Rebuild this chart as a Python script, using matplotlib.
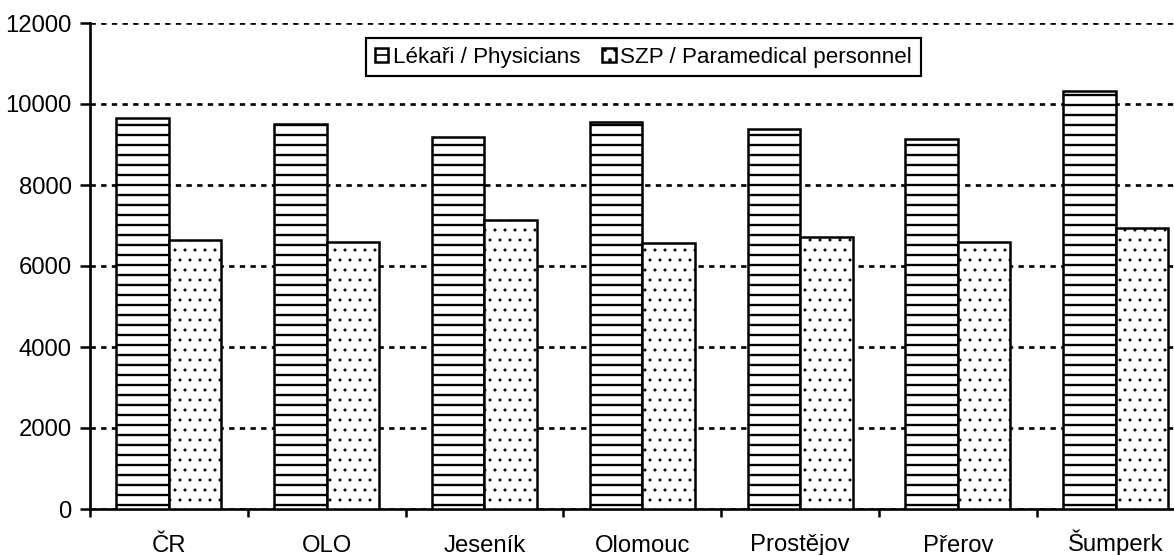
import matplotlib
matplotlib.use('Agg')
import matplotlib.pyplot as plt
from matplotlib import font_manager
import numpy as np

# data
regions    = ['ČR', 'OLO', 'Jeseník', 'Olomouc', 'Prostějov', 'Přerov', 'Šumperk']
physicians = [9660, 9500, 9190, 9550, 9390, 9130, 10330]
paramedics = [6640, 6590, 7140, 6560, 6720, 6590, 6940]
y_ticks    = [0, 2000, 4000, 6000, 8000, 10000, 12000]

# the source uses a condensed Arial-like face
names = {f.name for f in font_manager.fontManager.ttflist}
if 'Liberation Sans Narrow' in names:
    FAMILY, TICK_FS, LEG_FS = 'Liberation Sans Narrow', 17.4, 16.2
else:
    FAMILY, TICK_FS, LEG_FS = 'Liberation Sans', 14.3, 13.4
print(FAMILY)

plt.rcParams['font.family'] = [FAMILY, 'DejaVu Sans']
plt.rcParams['font.size'] = TICK_FS

DPI = 120
fig = plt.figure(figsize=(1174 / DPI, 555 / DPI), dpi=DPI)
# plot area runs past the right edge, as in the source image
ax = fig.add_axes([90 / 1174, 46 / 555, 1104.6 / 1174, 486 / 555])

x = np.arange(len(regions))
w = 0.333
with plt.rc_context({'hatch.linewidth': 1.4}):
    ax.bar(x - w / 2, physicians, w, color='white', edgecolor='black',
           linewidth=1.5, hatch='--', label='Lékaři / Physicians', zorder=3)
with plt.rc_context({'hatch.linewidth': 0.6}):
    ax.bar(x + w / 2, paramedics, w, color='white', edgecolor='black',
           linewidth=1.5, hatch='..', label='SZP / Paramedical personnel', zorder=3)

ax.set_xlim(-0.5, len(regions) - 0.5)
ax.set_ylim(0, 12000)
ax.set_yticks(y_ticks)
ax.yaxis.grid(True, color='black', linestyle=(0, (2, 2)), linewidth=1.6)
ax.set_axisbelow(True)

# labels centred on groups, tick marks on group boundaries
ax.set_xticks(x)
ax.set_xticklabels(regions)
ax.tick_params(axis='x', which='major', length=0, pad=25.5)
for lab in ax.get_xticklabels():
    lab.set_verticalalignment('baseline')
ax.set_xticks(np.arange(len(regions) + 1) - 0.5, minor=True)
ax.tick_params(axis='x', which='minor', length=4.5, width=1.5, direction='out')
ax.tick_params(axis='y', length=6, width=1.5, pad=5)

for side in ['top', 'right']:
    ax.spines[side].set_visible(False)
for side in ['left', 'bottom']:
    ax.spines[side].set_linewidth(1.6)

leg = ax.legend(loc='center', bbox_to_anchor=(0.501, 0.930), ncol=2,
                frameon=True, fancybox=False, edgecolor='black',
                handlelength=0.6, handleheight=0.6, handletextpad=0.2,
                columnspacing=1.0, borderpad=0.4, borderaxespad=0,
                fontsize=LEG_FS)
leg.get_frame().set_linewidth(1.3)
leg.get_frame().set_alpha(1)

fig.savefig('out.png', dpi=DPI)
